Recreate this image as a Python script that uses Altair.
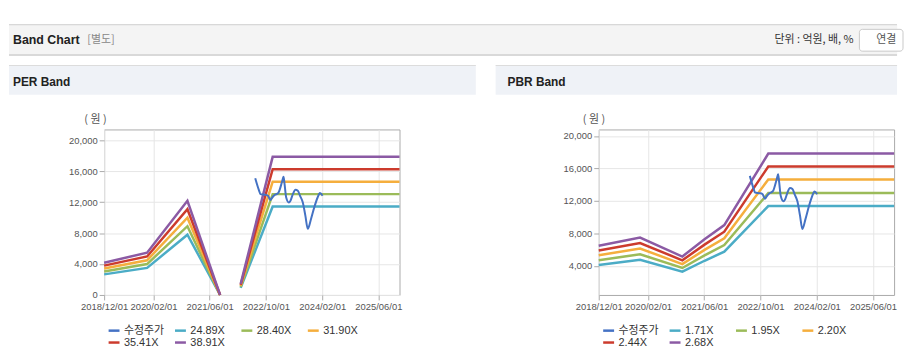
import altair as alt
import pandas as pd

FONT = "Liberation Sans, Noto Sans CJK KR, sans-serif"
KFONT = "Noto Sans CJK KR, Liberation Sans, sans-serif"

# ---------------- data ----------------
x_start = "2018-12-01"
x_end = "2025-12-01"
tick_dates = ["2018-12-01", "2020-02-01", "2021-06-01", "2022-10-01", "2024-02-01", "2025-06-01"]

price_name = "수정주가"
price_dates = ["2022-07-01", "2022-08-04", "2022-08-15", "2022-09-30", "2022-10-20", "2022-11-09",
               "2022-11-26", "2022-12-16", "2023-01-17", "2023-02-20", "2023-03-03", "2023-03-12",
               "2023-03-26", "2023-04-18", "2023-05-02", "2023-05-23", "2023-06-14", "2023-07-05",
               "2023-07-24", "2023-08-17", "2023-09-08", "2023-09-29", "2023-10-27", "2023-11-24",
               "2023-12-23", "2024-01-12", "2024-02-04"]
price_values = [15090, 13460, 13040, 12950, 12820, 12270, 12600, 12910, 13200, 14740, 15290, 14320,
                12600, 11960, 12180, 13040, 13590, 13460, 12820, 11960, 10260, 8550, 9830, 11320,
                12600, 13170, 12820]

# PER band
per_names = ["24.89X", "28.40X", "31.90X", "35.41X", "38.91X"]
per_dates = ["2018-12-01", "2019-12-08", "2020-11-21", "2021-08-31", "2022-02-25", "2022-11-29", "2025-12-01"]
per_segment = [0, 0, 0, 0, 1, 1, 1]
per_2489 = [2663, 3500, 7791, 0, 921, 11425, 11425]
per_2840 = [3039, 3993, 8889, 0, 1051, 13036, 13036]
per_3190 = [3413, 4485, 9985, 0, 1180, 14642, 14642]
per_3541 = [3789, 4979, 11083, 0, 1310, 16253, 16253]
per_3891 = [4163, 5471, 12179, 0, 1440, 17860, 17860]
per_y_ticks = [0, 4000, 8000, 12000, 16000, 20000]
per_y_domain = [0, 21400]

# PBR band
pbr_names = ["1.71X", "1.95X", "2.20X", "2.44X", "2.68X"]
pbr_dates = ["2018-12-01", "2019-11-24", "2020-11-24", "2021-06-04", "2021-11-22", "2022-12-08", "2025-12-01"]
pbr_segment = [0, 0, 0, 0, 0, 0, 0]
pbr_171 = [4138, 4779, 3299, 4648, 5763, 11380, 11380]
pbr_195 = [4719, 5450, 3762, 5300, 6572, 12977, 12977]
pbr_220 = [5324, 6149, 4244, 5980, 7414, 14641, 14641]
pbr_244 = [5905, 6820, 4707, 6632, 8223, 16238, 16238]
pbr_268 = [6486, 7491, 5170, 7284, 9032, 17835, 17835]
pbr_y_ticks = [4000, 8000, 12000, 16000, 20000]
pbr_y_domain = [440, 20800]

series_colors = ["#4472c4", "#4bacc6", "#9bbb59", "#f5ae3d", "#cc3b2d", "#8b5aa4"]


def ms(d):
    return int(pd.Timestamp(d).value // 10**6)


one = pd.DataFrame({"k": [0]})


def deco_rect(x, x2, y, y2, fill, **kw):
    return alt.Chart(one).mark_rect(fill=fill, **kw).encode(
        x=alt.value(x), x2=alt.value(x2), y=alt.value(y), y2=alt.value(y2))


def deco_text(x, y, text, size=11, color="#333", weight="normal", align="left", font=FONT):
    return alt.Chart(one).mark_text(
        align=align, baseline="middle", fontSize=size, color=color,
        fontWeight=weight, font=font).encode(
        x=alt.value(x), y=alt.value(y), text=alt.value(text))


def panel(names, dates, seg, bands, y_domain, y_ticks):
    rows = []
    for name, vals in zip(names, bands):
        for d, s, v in zip(dates, seg, vals):
            rows.append({"date": d, "value": v, "series": name, "seg": f"{name}-{s}"})
    band_df = pd.DataFrame(rows)
    price_df = pd.DataFrame({"date": price_dates, "value": price_values, "series": price_name})

    x = alt.X("date:T", title=None,
              scale=alt.Scale(domain=[ms(x_start), ms(x_end)], nice=False),
              axis=alt.Axis(values=[ms(d) for d in tick_dates],
                            labelExpr="utcFormat(datum.value, '%Y/%m/%d')",
                            grid=True, gridColor="#e6e6e6", domain=False,
                            tickSize=5, tickColor="#aaaaaa", labelPadding=2,
                            labelFlush=False, labelOverlap=False,
                            labelFont=FONT, labelFontSize=9.5, labelColor="#555"))
    y = alt.Y("value:Q", title=None,
              scale=alt.Scale(domain=y_domain, nice=False, zero=False),
              axis=alt.Axis(values=y_ticks, format=",d", grid=True, gridColor="#e6e6e6",
                            domain=False, tickSize=5, tickColor="#aaaaaa", labelPadding=2,
                            labelFont=FONT, labelFontSize=9.5, labelColor="#555"))
    color = alt.Color("series:N",
                      scale=alt.Scale(domain=[price_name] + names, range=series_colors),
                      legend=alt.Legend(orient="none", legendX=3, legendY=196, title=None,
                                        direction="horizontal", columns=4, gridAlign="all",
                                        columnPadding=5, rowPadding=0, padding=0,
                                        symbolType="stroke", symbolSize=121,
                                        symbolStrokeWidth=2.5, labelOffset=3,
                                        labelFont=FONT, labelFontSize=11,
                                        labelColor="#333"))
    band_layer = alt.Chart(band_df).mark_line(strokeWidth=2.5).encode(
        x=x, y=y, color=color, detail="seg:N")
    price_layer = alt.Chart(price_df).mark_line(strokeWidth=2, interpolate="monotone").encode(
        x=x, y=y, color=color)
    return band_layer, price_layer


per_band, per_price = panel(per_names, per_dates, per_segment,
                            [per_2489, per_2840, per_3190, per_3541, per_3891],
                            per_y_domain, per_y_ticks)
pbr_band, pbr_price = panel(pbr_names, pbr_dates, pbr_segment,
                            [pbr_171, pbr_195, pbr_220, pbr_244, pbr_268],
                            pbr_y_domain, pbr_y_ticks)

left = alt.layer(
    deco_rect(-96, 800, -120, -106, "white"),
    deco_rect(-96, 800, -106, -74, "#d9d9d9"),
    deco_rect(-96, 800, -106, -105, "#c4c4c4"),
    deco_rect(-96, 800, -105, -76, "#f4f4f4"),
    deco_text(-92, -90, "Band Chart", size=12.5, color="#222", weight="bold"),
    deco_text(-17, -90, "[별도]", size=11, color="#888", font=KFONT),
    deco_text(756, -90, "단위 : 억원, 배, %", size=11, color="#333", align="right", font=KFONT),
    deco_rect(762, 806, -101, -79, "white", stroke="#c8c8c8", strokeWidth=1, cornerRadius=3),
    deco_text(789, -90, "연결", size=11, color="#555", align="center", font=KFONT),
    deco_rect(-96, 375, -65, -35, "#eff2f7"),
    deco_rect(-96, 375, -65, -64, "#dcdcdc"),
    deco_text(-92, -48, "PER Band", size=12, color="#222", weight="bold"),
    deco_text(-20, -10, "( 원 )", size=11, color="#555", font=KFONT),
    per_band, per_price,
).properties(width=298, height=167)

right = alt.layer(
    deco_rect(-104, 301, -65, -35, "#eff2f7"),
    deco_rect(-104, 301, -65, -64, "#dcdcdc"),
    deco_text(-92, -48, "PBR Band", size=12, color="#222", weight="bold"),
    deco_text(-16, -10, "( 원 )", size=11, color="#555", font=KFONT),
    pbr_band, pbr_price,
).properties(width=298, height=167)

chart = alt.hconcat(left, right, spacing=201, bounds="flush").resolve_scale(
    color="independent", x="independent", y="independent"
).properties(padding=0, background="white").configure_view(
    stroke="#aaaaaa", strokeWidth=1)

chart.save("out.html", embed_options={"renderer": "svg", "actions": False})
